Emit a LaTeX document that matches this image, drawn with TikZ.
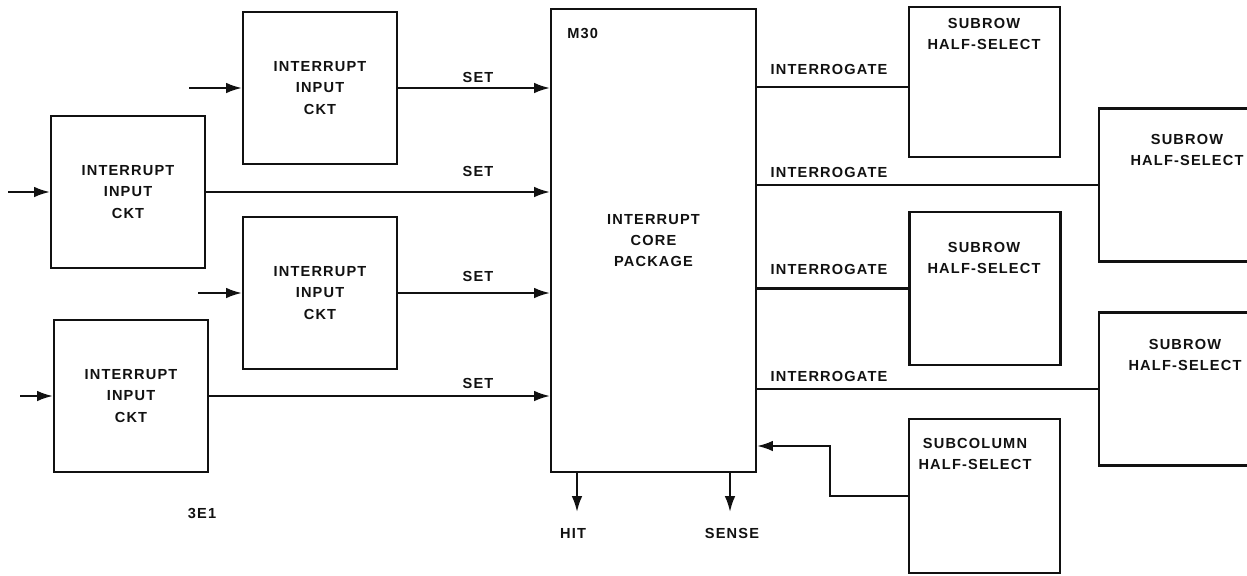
\documentclass[tikz,border=0pt]{standalone}
\usepackage{fontspec}
\setmainfont{Liberation Sans}[LetterSpace=8]
\usepackage{tikz}
\usetikzlibrary{positioning, calc, arrows.meta}
\definecolor{Ink}{HTML}{111111}

\begin{document}
\begin{tikzpicture}[x=0.02cm, y=-0.02cm,
    lab/.style={font=\fontsize{8.3}{12.2}\selectfont\bfseries, text=Ink,
                inner sep=0pt, align=center},
    box/.style={lab, draw=Ink, line width=1.2pt, minimum width=3.08cm,
                minimum height=3.04cm},
    sig/.style={draw=Ink, line width=1.2pt},
    tip/.style={sig, -{Latex[length=9pt, width=6pt]}}]
\useasboundingbox (0,0) rectangle (1247,575);
\clip (0,0) rectangle (1247,575);

\node[box] (ckA) at (320,88)  {INTERRUPT\\INPUT\\CKT};
\node[box] (ckB) at (128,192) {INTERRUPT\\INPUT\\CKT};
\node[box] (ckC) at (320,293) {INTERRUPT\\INPUT\\CKT};
\node[box] (ckD) at (131,396) {INTERRUPT\\INPUT\\CKT};

\node[box, minimum width=4.1cm, minimum height=9.26cm] (core) at (653.5,240.5)
    {INTERRUPT\\CORE\\PACKAGE};
\node[lab, anchor=west] (m30) at (567,33) {M30};

\node[box, minimum width=3.02cm, minimum height=3cm] (subrowA) at (984.5,82) {};
\node[lab] (subrowAtxt) at (984,34) {SUBROW\\HALF-SELECT};
\node[box, minimum width=3.52cm, minimum height=3.06cm] (subrowB) at (1187,185) {};
\node[lab] (subrowBtxt) at (1187,150) {SUBROW\\HALF-SELECT};
\node[box, minimum width=3.02cm, minimum height=3.06cm] (subrowC) at (985,288.5) {};
\node[lab] (subrowCtxt) at (984,258) {SUBROW\\HALF-SELECT};
\node[box, minimum width=3.52cm, minimum height=3.06cm] (subrowD) at (1187,389) {};
\node[lab] (subrowDtxt) at (1185,355) {SUBROW\\HALF-SELECT};
\node[box, minimum width=3.02cm, minimum height=3.08cm] (subcol) at (984.5,496) {};
\node[lab] (subcoltxt) at (975,454) {SUBCOLUMN\\HALF-SELECT};

\coordinate (inA) at (189,88);
\coordinate (inB) at (8,192);
\coordinate (inC) at (198,293);
\coordinate (inD) at (20,396);
\draw[tip] (inA) -- (ckA.west);
\draw[tip] (inB) -- (ckB.west);
\draw[tip] (inC) -- (ckC.west);
\draw[tip] (inD) -- (ckD.west);

\draw[tip] (ckA.east) -- (ckA.east -| core.west);
\draw[tip] (ckB.east) -- (ckB.east -| core.west);
\draw[tip] (ckC.east) -- (ckC.east -| core.west);
\draw[tip] (ckD.east) -- (ckD.east -| core.west);
\node[lab] (setA) at (478,77)  {SET};
\node[lab] (setB) at (478,171) {SET};
\node[lab] (setC) at (478,276) {SET};
\node[lab] (setD) at (478,383) {SET};

\draw[sig] ([yshift=-0.1cm]subrowA.west -| core.east) -- ([yshift=-0.1cm]subrowA.west);
\draw[sig] (subrowB.west -| core.east) -- (subrowB.west);
\draw[sig] (subrowC.west -| core.east) -- (subrowC.west);
\draw[sig] (subrowD.west -| core.east) -- (subrowD.west);
\node[lab] (intA) at (829,69)  {INTERROGATE};
\node[lab] (intB) at (829,172) {INTERROGATE};
\node[lab] (intC) at (829,269) {INTERROGATE};
\node[lab] (intD) at (829,376) {INTERROGATE};

\coordinate (bend) at (830,446);
\draw[tip] (subcol.west) -| (bend) -- (bend -| core.east);

\coordinate (hitEnd) at (577,512);
\coordinate (senseEnd) at (730,512);
\draw[tip] (hitEnd |- core.south) -- (hitEnd);
\draw[tip] (senseEnd |- core.south) -- (senseEnd);
\node[lab] (hit) at (573,533) {HIT};
\node[lab] (sense) at (732,533) {SENSE};

\node[lab] (fig) at (202,513) {3E1};
\end{tikzpicture}
\end{document}
